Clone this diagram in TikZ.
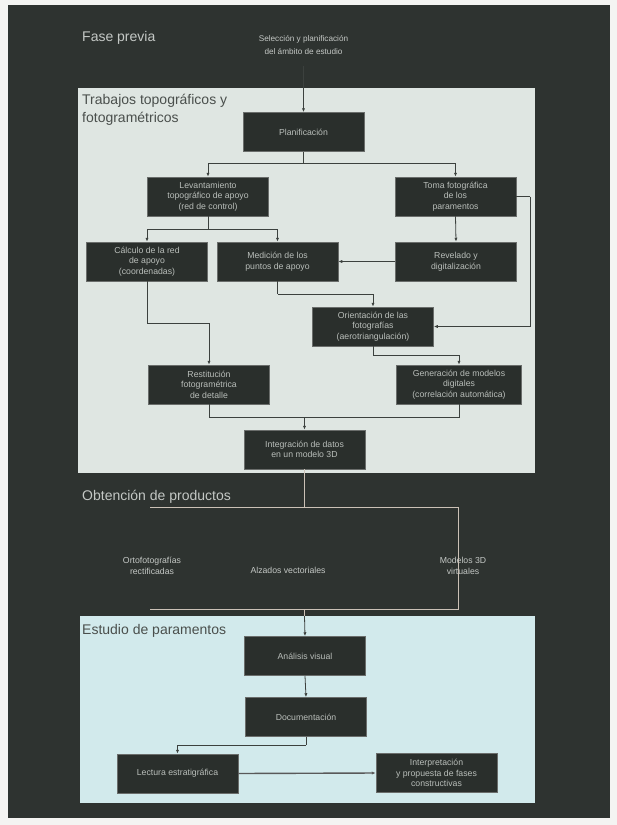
\documentclass[tikz,border=0pt]{standalone}
\usepackage{fontspec}
\setmainfont{Liberation Sans}
\usetikzlibrary{arrows.meta}
\definecolor{outerbg}{HTML}{F4F4F2}
\definecolor{bgdark}{HTML}{2E3330}
\definecolor{panelA}{HTML}{DFE6E2}
\definecolor{panelC}{HTML}{D2EAEC}
\definecolor{boxfill}{HTML}{2A2F2C}
\definecolor{boxtext}{HTML}{B9BEBA}
\definecolor{linecol}{HTML}{3C413E}
\definecolor{pale}{HTML}{CBC1B6}
\definecolor{labdark}{HTML}{4A4F4C}
\definecolor{lablight}{HTML}{C4C8C5}
\tikzset{
  stepbox/.style={fill=boxfill, draw=boxfill!70!white, line width=0.5pt, text=boxtext,
    font=\fontsize{8.7}{10.5}\selectfont, align=center, minimum width=121pt,
    minimum height=39pt, inner sep=1pt},
  conn/.style={draw=linecol, line width=0.8pt, -{Latex[length=4pt,width=3.2pt]}},
  plain/.style={draw=linecol, line width=0.8pt},
  paleline/.style={draw=pale, line width=0.9pt},
  panellabel/.style={font=\fontsize{14}{18}\selectfont, align=left, inner sep=0pt},
  prodlabel/.style={font=\fontsize{8.7}{10.5}\selectfont, align=center, text=lablight, inner sep=0pt}
}
\begin{document}
\begin{tikzpicture}[x=1pt,y=-1pt]
% background
\fill[outerbg] (0,0) rectangle (617,825);
\useasboundingbox (0,0) rectangle (617,825);
\fill[bgdark] (8,5) rectangle (610,818);
\fill[panelA] (78,88) rectangle (535,473);
\fill[panelC] (80,616) rectangle (535,803);

% phase labels
\node[panellabel, text=lablight, anchor=west] (lfase) at (82,38) {Fase previa};
\node[prodlabel, font=\fontsize{8.2}{13}\selectfont] (inicio) at (303.5,45) {Selección y planificación\\del ámbito de estudio};
\node[panellabel, text=labdark, anchor=north west] (ltrab) at (82,94) {Trabajos topográficos y\\fotogramétricos};
\node[panellabel, text=lablight, anchor=west] (lobt) at (82,497) {Obtención de productos};
\node[panellabel, text=labdark, anchor=west] (lest) at (82,631) {Estudio de paramentos};

% boxes, first panel
\node[stepbox] (plan) at (303.5,132) {Planificación};
\node[stepbox] (l1) at (208,196.5) {Levantamiento\\topográfico de apoyo\\(red de control)};
\node[stepbox] (r1) at (455.5,196.5) {Toma fotográfica\\de los\\paramentos};
\node[stepbox] (l2) at (147,261.5) {Cálculo de la red\\de apoyo\\(coordenadas)};
\node[stepbox] (m2) at (277.5,261.5) {Medición de los\\puntos de apoyo};
\node[stepbox] (r2) at (456,261.5) {Revelado y\\digitalización};
\node[stepbox] (c3) at (373,326.5) {Orientación de las\\fotografías\\(aerotriangulación)};
\node[stepbox] (l4) at (209,384.5) {Restitución\\fotogramétrica\\de detalle};
\node[stepbox, minimum width=125pt] (r4) at (459,384.5) {Generación de modelos\\digitales\\(correlación automática)};
\node[stepbox] (c5) at (304.5,449.5) {Integración de datos\\en un modelo 3D};

% products
\node[prodlabel] (p1) at (152,566) {Ortofotografías\\rectificadas};
\node[prodlabel] (p2) at (288,570) {Alzados vectoriales};
\node[prodlabel] (p3) at (463,566) {Modelos 3D\\virtuales};

% boxes, third panel
\node[stepbox] (e1) at (305,656) {Análisis visual};
\node[stepbox] (e2) at (306,717) {Documentación};
\node[stepbox] (e3) at (177.5,773.5) {Lectura estratigráfica};
\node[stepbox] (e4) at (436.5,773) {Interpretación\\y propuesta de fases\\constructivas};

% connectors
\coordinate (s0) at (303.5,66);
\draw[conn] (s0) -- (plan.north);
\coordinate (b1) at (303.5,163);
\draw[plain] (plan.south) -- (b1);
\draw[conn] (b1) -| (l1.north);
\draw[conn] (b1) -| (r1.north);
\coordinate (b2) at (208,229);
\draw[plain] (l1.south) -- (b2);
\draw[conn] (b2) -| (l2.north);
\draw[conn] (b2) -| (m2.north);
\draw[conn] (r1.south) -- (r2.north);
\draw[conn] (r2.west) -- (m2.east);
\coordinate (b3) at (277.5,294);
\draw[plain] (m2.south) -- (b3);
\draw[conn] (b3) -| (c3.north);
\coordinate (b4) at (530,196.5);
\draw[plain] (r1.east) -- (b4);
\draw[conn] (b4) |- (c3.east);
\coordinate (b5) at (147,323);
\draw[plain] (l2.south) -- (b5);
\draw[conn] (b5) -| (l4.north);
\coordinate (b6) at (373,355);
\draw[plain] (c3.south) -- (b6);
\draw[conn] (b6) -| (r4.north);
\coordinate (m5) at (304.5,417);
\draw[plain] (l4.south) |- (m5);
\draw[plain] (r4.south) |- (m5);
\draw[conn] (m5) -- (c5.north);

% products bracket
\coordinate (t1) at (150,507);
\coordinate (t2) at (458,507);
\coordinate (t3) at (458,609);
\coordinate (t4) at (150,609);
\coordinate (tm) at (304.5,507);
\coordinate (bm) at (304.5,609);
\coordinate (bp) at (304.5,616);
\draw[paleline] (c5.south) -- (tm);
\draw[paleline] (t1) -- (t2) -- (t3) -- (t4);
\draw[paleline] (bm) -- (bp);
\draw[conn] (bp) -- (e1.north);

% third panel
\draw[conn] (e1.south) -- (e2.north);
\coordinate (b7) at (306,745);
\draw[plain] (e2.south) -- (b7);
\draw[conn] (b7) -| (e3.north);
\draw[conn, draw=gray!70!black, line width=1.4pt] (e3.east) -- (e4.west);
\end{tikzpicture}
\end{document}
